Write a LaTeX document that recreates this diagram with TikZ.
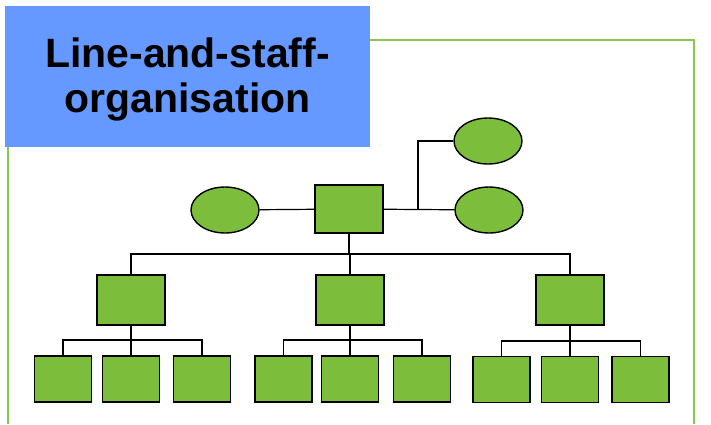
\documentclass[tikz,border=0pt]{standalone}
\usepackage{fontspec}
\setmainfont{Liberation Sans}
\usetikzlibrary{shapes.geometric}
\definecolor{boxgreen}{RGB}{124,190,60}
\definecolor{framegreen}{RGB}{140,198,80}
\definecolor{titleblue}{RGB}{102,153,255}

\begin{document}
\begin{tikzpicture}[x=1pt, y=-1pt,
    unit/.style={draw=black, line width=1.4pt, fill=boxgreen, minimum width=68pt, minimum height=48pt, inner sep=0pt},
    subunit/.style={unit, minimum width=57pt, minimum height=46pt},
    staff/.style={ellipse, draw=black, line width=1.4pt, fill=boxgreen, minimum width=68pt, minimum height=46pt, inner sep=0pt},
    link/.style={line width=1.2pt}]
    \useasboundingbox (0,0) rectangle (711,424);
    % frame and title
    \draw[framegreen, line width=1.5pt] (8,424) -- (8,40) -- (694,40) -- (694,424);
    \fill[titleblue] (5,6) rectangle (370,147);
    \node[font=\bfseries\fontsize{41}{45}\selectfont, align=center, anchor=base] (title) at (187.5,112) {Line-and-staff-\\organisation};

    % top with staff
    \node[unit] (head) at (349,209) {};
    \node[staff] (staffL) at (225,210) {};
    \node[staff] (staffR) at (489,210) {};
    \node[staff] (staffT) at (488,141) {};
    \coordinate (fork) at (418,209);
    \draw[link] (staffL) -- (head);
    \draw[link] (head) -- (staffR);
    \draw[link] (staffT.west) -| (fork);

    % middle line
    \node[unit, minimum height=50pt] (mid1) at (131,300) {};
    \node[unit, minimum height=50pt] (mid2) at (350,300) {};
    \node[unit, minimum height=50pt] (mid3) at (570,300) {};
    \coordinate (bus) at (349,254);
    \draw[line width=1.8pt] (head.south) -- (bus);
    \draw[link] (mid1.north) |- (bus) -| (mid3.north);
    \draw[link] (mid2.north |- bus) -- (mid2.north);

    % bottom line
    \node[subunit] (sub11) at (63,379) {};
    \node[subunit] (sub12) at (131,379) {};
    \node[subunit] (sub13) at (202,379) {};
    \node[subunit] (sub21) at (283.5,379) {};
    \node[subunit] (sub22) at (350,379) {};
    \node[subunit] (sub23) at (422,379) {};
    \node[subunit] (sub31) at (501.5,379.5) {};
    \node[subunit] (sub32) at (570,379.5) {};
    \node[subunit] (sub33) at (640.5,379.5) {};
    \coordinate (bus1) at (131,340);
    \coordinate (bus2) at (350,340);
    \coordinate (bus3) at (570,341);
    \draw[line width=1.6pt] (mid1.south) -- (sub12.north);
    \draw[link] (sub11.north) |- (bus1) -| (sub13.north);
    \draw[line width=1.6pt] (mid2.south) -- (sub22.north);
    \draw[link] (sub21.north) |- (bus2) -| (sub23.north);
    \draw[line width=1.6pt] (mid3.south) -- (sub32.north);
    \draw[link] (sub31.north) |- (bus3) -| (sub33.north);
\end{tikzpicture}
\end{document}
